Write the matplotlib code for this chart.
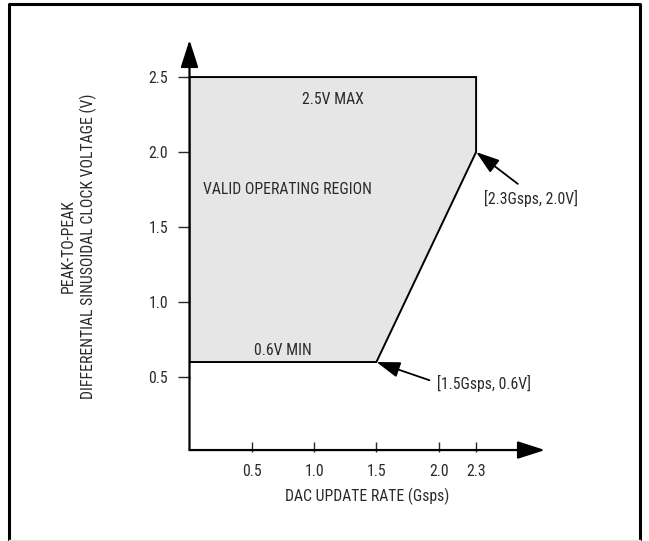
import matplotlib
matplotlib.use('Agg')
import matplotlib.pyplot as plt
from matplotlib import font_manager
from matplotlib.patches import Polygon
from matplotlib.lines import Line2D

# narrow face if one is installed, else plain Liberation Sans
installed = {f.name for f in font_manager.fontManager.ttflist}
narrow = [f for f in ['Liberation Sans Narrow', 'Roboto Condensed', 'Open Sans Condensed',
                      'DejaVu Sans Condensed'] if f in installed]
plt.rcParams['font.family'] = narrow[:1] + ['Liberation Sans', 'DejaVu Sans']
FS = 11.3 if narrow else 10

# data
region_x = [0.0, 0.0, 2.3, 2.3, 1.5]
region_y = [0.6, 2.5, 2.5, 2.0, 0.6]
x_ticks = [0.5, 1.0, 1.5, 2.0, 2.3]
x_ticklabels = ['0.5', '1.0', '1.5', '2.0', '2.3']
y_ticks = [0.5, 1.0, 1.5, 2.0, 2.5]
y_ticklabels = ['0.5', '1.0', '1.5', '2.0', '2.5']
corner_pts = [(2.3, 2.0), (1.5, 0.6)]
corner_labels = ['[2.3Gsps, 2.0V]', '[1.5Gsps, 0.6V]']

W, H = 649, 541
fig = plt.figure(figsize=(W / 100, H / 100), dpi=100)
TXT = '#2a2a2a'

# outer frame (drawn in figure pixels)
fx = lambda px: px / W
fy = lambda py: 1 - py / H
fig.add_artist(Line2D([fx(9), fx(9), fx(640), fx(640)], [fy(540), fy(4), fy(4), fy(540)],
                      color='black', lw=2.2))
fig.add_artist(Line2D([fx(9), fx(640)], [fy(539.5), fy(539.5)], color='#e4e4e4', lw=1))

x0, y0 = 189.5, 452
xmax, ymax = 2.853, 2.747
ax = fig.add_axes([fx(x0), 1 - y0 / H, (545 - x0) / W, (y0 - 40) / H])
ax.set_xlim(0, xmax)
ax.set_ylim(0, ymax)
for s in ax.spines.values():
    s.set_visible(False)
ax.patch.set_alpha(0)

poly = Polygon(list(zip(region_x, region_y)), closed=True, facecolor='#e6e6e6',
               edgecolor='black', lw=1.4, zorder=1)
ax.add_patch(poly)

# axes with arrows
arrow = dict(arrowstyle='-|>,head_length=1.4,head_width=0.45', color='black', lw=1.6,
             shrinkA=0, shrinkB=0, mutation_scale=12)
ax.annotate('', xy=(xmax, 0.013), xytext=(0, 0.013), arrowprops=arrow, annotation_clip=False)
ax.annotate('', xy=(0, ymax), xytext=(0, 0.013), arrowprops=arrow, annotation_clip=False)

ax.set_xticks(x_ticks)
ax.set_xticklabels(x_ticklabels)
ax.set_yticks(y_ticks)
ax.set_yticklabels(y_ticklabels)
ax.tick_params(axis='x', direction='in', length=7, width=1, pad=9, labelsize=FS, colors=TXT)
ax.tick_params(axis='y', direction='out', length=8.5, width=1, pad=7, labelsize=FS, colors=TXT)

ax.set_xlabel('DAC UPDATE RATE (Gsps)', fontsize=FS, color=TXT, labelpad=6)
ax.set_ylabel('PEAK-TO-PEAK\nDIFFERENTIAL SINUSOIDAL CLOCK VOLTAGE (V)', fontsize=FS,
              color=TXT, labelpad=37, linespacing=1.3)

ax.text(1.15, 2.35, '2.5V MAX', ha='center', va='center', fontsize=FS, color=TXT)
ax.text(0.11, 1.75, 'VALID OPERATING REGION', ha='left', va='center', fontsize=FS, color=TXT)
ax.text(0.75, 0.68, '0.6V MIN', ha='center', va='center', fontsize=FS, color=TXT)

label_pos = [(2.36, 1.69), (1.99, 0.46)]
for (px, py), (tx, ty), lab in zip(corner_pts, label_pos, corner_labels):
    ax.annotate(lab, xy=(px, py), xytext=(tx, ty), ha='left', va='center', fontsize=FS,
                color=TXT, annotation_clip=False,
                arrowprops=dict(arrowstyle='-|>,head_length=1.2,head_width=0.4', color='black',
                                lw=1.3, shrinkA=4, shrinkB=0, mutation_scale=12,
                                relpos=(0.45, 1.0) if py > 1 else (0, 0.5)))

fig.savefig('out.png', dpi=100, facecolor='white')
